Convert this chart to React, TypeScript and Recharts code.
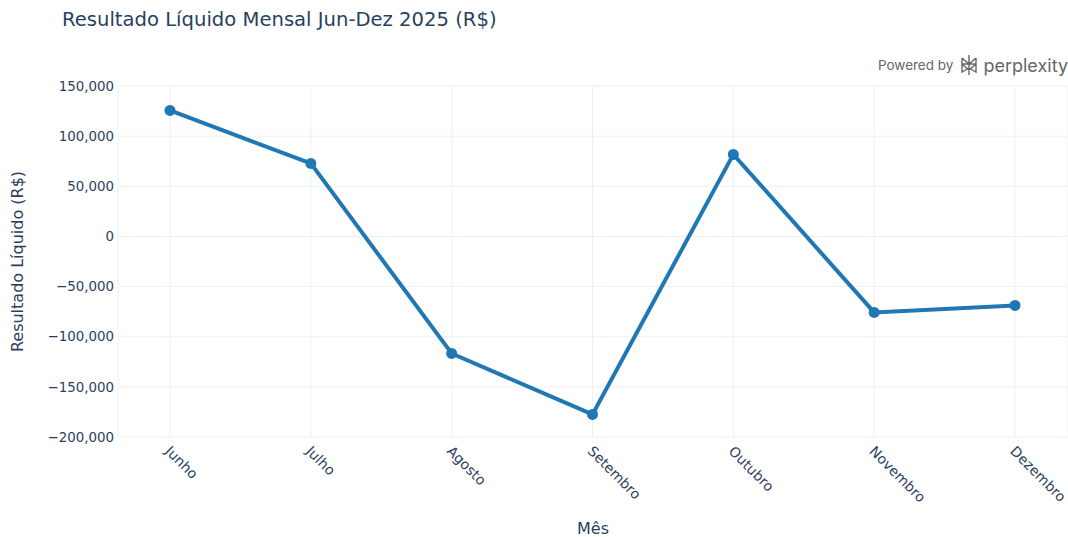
import { LineChart, Line, XAxis, YAxis, CartesianGrid, Label } from 'recharts'

const months = ['Junho', 'Julho', 'Agosto', 'Setembro', 'Outubro', 'Novembro', 'Dezembro']
const resultado = [125600, 72800, -116700, -177500, 81800, -75800, -68800]
const yTicks = [-200000, -150000, -100000, -50000, 0, 50000, 100000, 150000]

const data = months.map((m, i) => ({ mes: m, valor: resultado[i] }))

const font = 'DejaVu Sans, sans-serif'
const ink = '#2a3f5f'

const fmt = (v: number) => (v < 0 ? '\u2212' : '') + Math.abs(v).toLocaleString('en-US')

function MonthTick({ x, y, payload }: any) {
  return (
    <text
      x={x}
      y={y}
      transform={`rotate(45 ${x} ${y})`}
      textAnchor="start"
      fontSize={14}
      fill={ink}
      fontFamily={font}
      dx={1}
      dy={9}
    >
      {payload.value}
    </text>
  )
}

export default function App() {
  return (
    <div style={{ position: 'absolute', left: 0, top: 0, width: 1068, height: 537, background: '#fff', fontFamily: font }}>
      <div style={{ position: 'absolute', left: 62, top: 8, fontSize: 19.6, color: ink }}>
        Resultado Líquido Mensal Jun-Dez 2025 (R$)
      </div>
      <div style={{ position: 'absolute', right: 0, top: 53, display: 'flex', alignItems: 'center', color: '#666', fontFamily: 'Inter, sans-serif' }}>
        <span style={{ fontSize: 13.5 }}>Powered by</span>
        <svg width="22" height="24" viewBox="0 0 22 22" style={{ margin: '0 3px 0 5px' }}>
          <g stroke="#666" strokeWidth="1.4" fill="none">
            <path d="M11 1v20M4 4l7 6 7-6M4 4v6h14V4M4 10l7 6 7-6M4 10v8l7-4 7 4v-8" />
          </g>
        </svg>
        <span style={{ fontSize: 18 }}>perplexity</span>
      </div>
      <LineChart width={1068} height={537} data={data} margin={{ top: 86, right: 0, left: 0, bottom: 0 }}>
        <CartesianGrid stroke="#ebf0f8" strokeWidth={1} />
        <XAxis
          dataKey="mes"
          axisLine={false}
          tickLine={false}
          height={100}
          padding={{ left: 52, right: 53 }}
          tick={<MonthTick />}
          interval={0}
        >
          <Label value="Mês" position="insideBottom" offset={3} fill={ink} fontSize={16} fontFamily={font} />
        </XAxis>
        <YAxis
          domain={[-200000, 150000]}
          ticks={yTicks}
          axisLine={false}
          tickLine={false}
          width={118}
          tickFormatter={fmt}
          tick={{ fontSize: 13.4, fill: ink, fontFamily: font }}
          tickMargin={-2}
        >
          <Label
            value="Resultado Líquido (R$)"
            angle={-90}
            position="insideLeft"
            offset={17}
            style={{ textAnchor: 'middle' }}
            fill={ink}
            fontSize={16}
            fontFamily={font}
          />
        </YAxis>
        <Line
          type="linear"
          dataKey="valor"
          stroke="#1f77b4"
          strokeWidth={4}
          dot={{ r: 5.5, fill: '#1f77b4', stroke: '#1f77b4', strokeWidth: 0 }}
          activeDot={false}
          isAnimationActive={false}
        />
      </LineChart>
    </div>
  )
}
